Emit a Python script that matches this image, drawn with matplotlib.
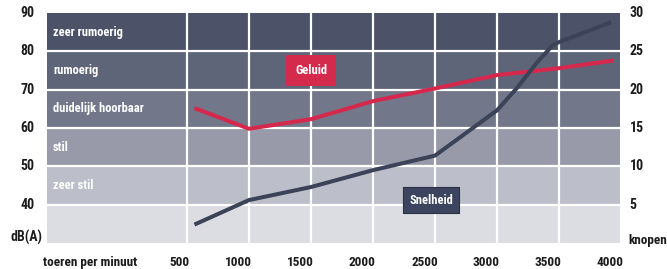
import numpy as np
import matplotlib
matplotlib.use('Agg')
import matplotlib.pyplot as plt

# 数据：转速 (toeren per minuut)
geluid_rpm = [560, 1000, 1500, 2000, 2500, 3000, 3500, 3940]
geluid_db = [65.2, 59.8, 62.3, 67.0, 70.3, 73.8, 75.6, 77.6]

snelheid_rpm = [560, 1000, 1500, 2000, 2500, 2780, 3000, 3160, 3320, 3450, 3500, 3920]
snelheid_kn = [2.4, 5.6, 7.3, 9.5, 11.4, 14.7, 17.3, 20.2, 23.5, 25.8, 26.2, 28.8]

band_edges = [30, 40, 50, 60, 70, 80, 90]
band_labels = ['', 'zeer stil', 'stil', 'duidelijk hoorbaar', 'rumoerig', 'zeer rumoerig']
band_colors = ['#dcdde3', '#bcbec9', '#989aaa', '#73778a', '#5f6579', '#4c5368']

x_ticks = [500, 1000, 1500, 2000, 2500, 3000, 3500, 4000]
db_ticks = [40, 50, 60, 70, 80, 90]
kn_ticks = [5, 10, 15, 20, 25, 30]

# 窄体粗字，找不到就往后退
plt.rcParams['font.family'] = ['Roboto Condensed', 'Archivo Narrow', 'PT Sans Narrow', 'DejaVu Sans']
plt.rcParams['font.weight'] = 'bold'
TXT = '#1c1c1c'

fig = plt.figure(figsize=(6.67, 2.69), dpi=100)
W, H = 667, 269
ax = fig.add_axes([47 / W, 26 / H, 573 / W, 230 / H])
ax.set_xlim(-629, 3992)
ax.set_ylim(30, 90)

# 背景色带
for i in range(len(band_colors)):
    ax.axhspan(band_edges[i], band_edges[i + 1], color=band_colors[i], zorder=0, lw=0)
    if band_labels[i]:
        ax.text(-580, (band_edges[i] + band_edges[i + 1]) / 2, band_labels[i],
                color='white', fontsize=9, va='center', ha='left', zorder=3)

# 网格线
for y in db_ticks[:-1]:
    ax.axhline(y, color='white', lw=1.6, zorder=1)
for x in x_ticks[:-1]:
    ax.axvline(x, color='white', lw=1.6, zorder=1)

for s in ax.spines.values():
    s.set_visible(False)
ax.set_xticks([])
ax.set_yticks([])

# 声音曲线
ax.plot(geluid_rpm, geluid_db, color='#d6284c', lw=2.9, zorder=4, solid_capstyle='butt')

# 速度曲线（右轴）
ax2 = ax.twinx()
ax2.set_ylim(0, 30)
ax2.set_yticks([])
for s in ax2.spines.values():
    s.set_visible(False)
ax2.plot(snelheid_rpm, snelheid_kn, color='#3b4359', lw=2.9, zorder=4, solid_capstyle='butt')

# 标签框
ax.text(1500, 75, 'Geluid', color='white', fontsize=9, ha='center', va='center', zorder=5,
        bbox=dict(boxstyle='square,pad=0.7', fc='#d42a4c', ec='none'))
ax2.text(2470, 5.6, 'Snelheid', color='white', fontsize=9, ha='center', va='center', zorder=5,
         bbox=dict(boxstyle='square,pad=0.5', fc='#3c4560', ec='#2a3045', lw=0.8))

# 刻度文字
for x in x_ticks:
    ax.annotate(str(x), (x, 30), xytext=(2, -14), textcoords='offset points',
                ha='right', va='center', fontsize=9.5, color=TXT, annotation_clip=False)
ax.annotate('toeren per minuut', (0, 0), xycoords='axes fraction', xytext=(-3, -14),
            textcoords='offset points', ha='left', va='center', fontsize=9.5, color=TXT)

for y in db_ticks:
    ax.annotate(str(y), (0, y), xycoords=('axes fraction', 'data'), xytext=(-9, 0),
                textcoords='offset points', ha='right', va='center', fontsize=10, color=TXT,
                annotation_clip=False)
ax.annotate('dB(A)', (0, 0), xycoords='axes fraction', xytext=(-3, 4),
            textcoords='offset points', ha='right', va='center', fontsize=10, color=TXT)

for y in kn_ticks:
    ax2.annotate(str(y), (1, y), xycoords=('axes fraction', 'data'), xytext=(7, 0),
                 textcoords='offset points', ha='left', va='center', fontsize=10, color=TXT,
                 annotation_clip=False)
ax2.annotate('knopen', (1, 0), xycoords='axes fraction', xytext=(6, 2),
             textcoords='offset points', ha='left', va='center', fontsize=9.5, color=TXT)

fig.savefig('out.png', dpi=100)
